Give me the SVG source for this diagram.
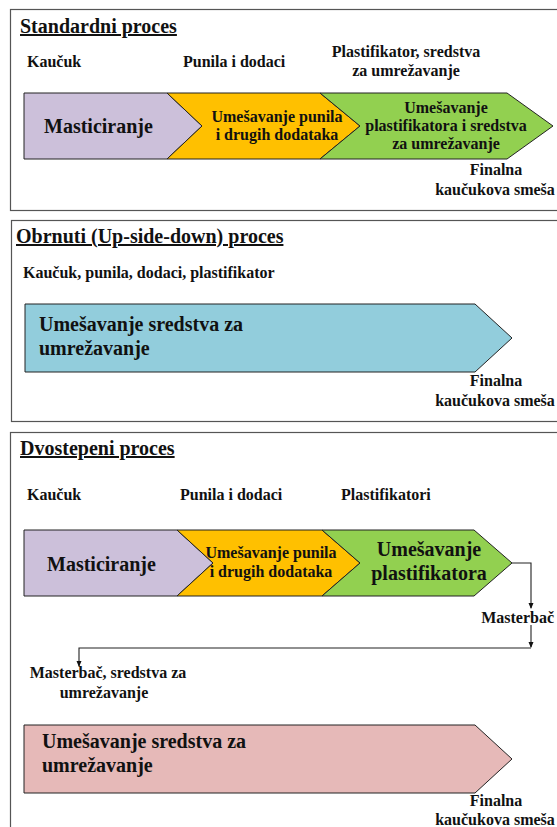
<svg xmlns="http://www.w3.org/2000/svg" width="557" height="827" viewBox="0 0 557 827">
  <style>
    text { font-family: "Liberation Serif", "Times New Roman", serif; font-weight: bold; fill: #111; }
    .title { font-size: 20px; text-decoration: underline; }
    .lbl { font-size: 16px; }
    .big { font-size: 20px; }
    .mid { text-anchor: middle; }
    .end { text-anchor: end; }
    .frame { fill: #fff; stroke: #555; stroke-width: 1.2; }
    .stage { stroke: #222; stroke-width: 1; }
    .wire { fill: none; stroke: #222; stroke-width: 1.1; }
  </style>
  <defs>
    <marker id="ah" markerWidth="6" markerHeight="6" refX="5" refY="3" orient="auto" markerUnits="userSpaceOnUse">
      <path d="M0,0.5 L6,3 L0,5.5 z" fill="#111"/>
    </marker>
  </defs>

  <rect width="557" height="827" fill="#fff"/>

  <!-- Section 1: standard process -->
  <g id="standardni">
    <rect class="frame" x="10.5" y="9.5" width="560" height="201"/>
    <text class="title" x="20" y="33">Standardni proces</text>
    <text class="lbl" x="27" y="67">Kaučuk</text>
    <text class="lbl" x="183" y="67">Punila i dodaci</text>
    <text class="lbl mid" x="406" y="57">Plastifikator, sredstva</text>
    <text class="lbl mid" x="406" y="76">za umrežavanje</text>
    <text class="lbl mid" x="496" y="175">Finalna</text>
    <text class="lbl mid" x="495" y="195">kaučukova smeša</text>
  </g>
  <g id="s1-mastikacija">
    <polygon class="stage" fill="#CCC0DA" points="24,93 167,93 202,126 167,159 24,159"/>
    <text class="big" x="44" y="133">Masticiranje</text>
  </g>
  <g id="s1-punila">
    <polygon class="stage" fill="#FFC000" points="167,93 320,93 360,126 320,159 167,159 202,126"/>
    <text class="lbl mid" x="277" y="122">Umešavanje punila</text>
    <text class="lbl mid" x="277" y="140">i drugih dodataka</text>
  </g>
  <g id="s1-plastifikator">
    <polygon class="stage" fill="#92D050" points="320,93 507,93 553,126 507,159 320,159 360,126"/>
    <text class="lbl mid" x="446" y="113">Umešavanje</text>
    <text class="lbl mid" x="446" y="131">plastifikatora i sredstva</text>
    <text class="lbl mid" x="446" y="149">za umrežavanje</text>
  </g>

  <!-- Section 2: up-side-down process -->
  <g id="obrnuti">
    <rect class="frame" x="11.5" y="220.5" width="560" height="201"/>
    <text class="title" x="16" y="243">Obrnuti (Up-side-down) proces</text>
    <text class="lbl" x="23" y="278">Kaučuk, punila, dodaci, plastifikator</text>
    <text class="lbl mid" x="496" y="386">Finalna</text>
    <text class="lbl mid" x="495" y="406">kaučukova smeša</text>
  </g>
  <g id="s2-umrezavanje">
    <polygon class="stage" fill="#92CDDC" points="25,304 475,304 512,338 475,372 25,372"/>
    <text class="big" x="39" y="331">Umešavanje sredstva za</text>
    <text class="big" x="39" y="355">umrežavanje</text>
  </g>

  <!-- Section 3: two-stage process -->
  <g id="dvostepeni">
    <rect class="frame" x="10.5" y="432.5" width="560" height="420"/>
    <text class="title" x="20" y="455">Dvostepeni proces</text>
    <text class="lbl" x="27" y="500">Kaučuk</text>
    <text class="lbl" x="180" y="500">Punila i dodaci</text>
    <text class="lbl" x="341" y="500">Plastifikatori</text>
  </g>
  <g id="s3-mastikacija">
    <polygon class="stage" fill="#CCC0DA" points="24,530 177,530 213,563 177,596 24,596"/>
    <text class="big" x="47" y="571">Masticiranje</text>
  </g>
  <g id="s3-punila">
    <polygon class="stage" fill="#FFC000" points="177,530 322,530 360,563 322,596 177,596 213,563"/>
    <text class="lbl mid" x="271" y="558">Umešavanje punila</text>
    <text class="lbl mid" x="271" y="577">i drugih dodataka</text>
  </g>
  <g id="s3-plastifikator">
    <polygon class="stage" fill="#92D050" points="322,530 474,530 512,563 474,596 322,596 360,563"/>
    <text class="big mid" x="429" y="556">Umešavanje</text>
    <text class="big mid" x="429" y="580">plastifikatora</text>
  </g>
  <g id="masterbac">
    <text class="lbl end" x="554" y="623">Masterbač</text>
  </g>
  <g id="masterbac-sredstva">
    <text class="lbl mid" x="108" y="678">Masterbač, sredstva za</text>
    <text class="lbl mid" x="104" y="698">umrežavanje</text>
  </g>
  <g id="s3-umrezavanje">
    <polygon class="stage" fill="#E6B9B8" points="24,725 475,725 512,759 475,793 24,793"/>
    <text class="big" x="42" y="748">Umešavanje sredstva za</text>
    <text class="big" x="42" y="772">umrežavanje</text>
  </g>
  <g id="s3-finalna">
    <text class="lbl mid" x="496" y="806">Finalna</text>
    <text class="lbl mid" x="495" y="825">kaučukova smeša</text>
  </g>

  <!-- Connectors -->
  <g id="connectors">
    <path class="wire" d="M512,563 H531 V608" marker-end="url(#ah)"/>
    <path class="wire" d="M531,625 V647" marker-end="url(#ah)"/>
    <path class="wire" d="M531,648 H79 V666" marker-end="url(#ah)"/>
  </g>
</svg>
